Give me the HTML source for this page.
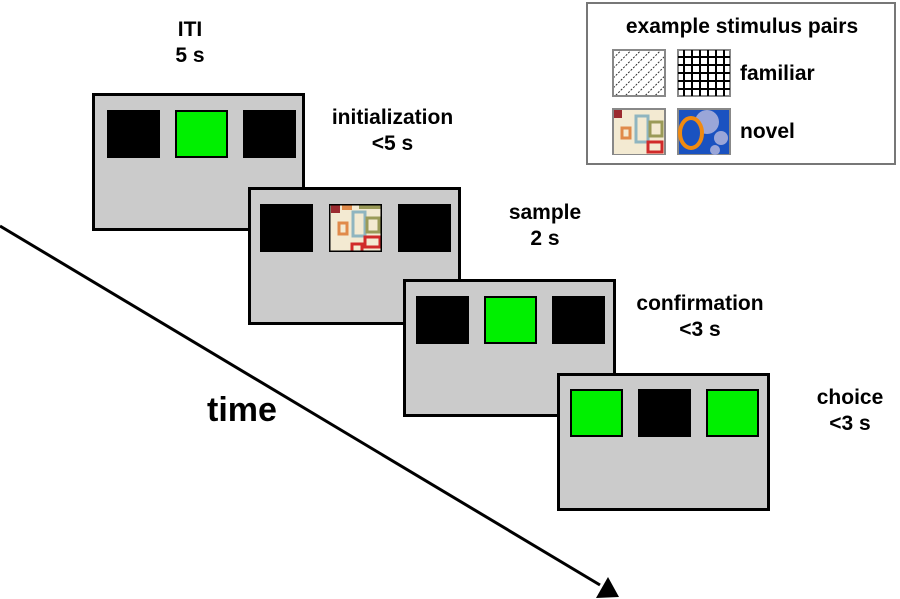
<!DOCTYPE html>
<html><head><style>
body{margin:0;width:900px;height:599px;background:#fff;position:relative;overflow:hidden;font-family:"Liberation Sans",sans-serif;font-weight:bold;}
.p{position:absolute;background:#cbcbcb;border:3px solid #000;box-sizing:border-box;width:213px;height:138px;}
.s{position:absolute;width:53px;height:48px;border:2px solid #000;box-sizing:border-box;background:#000;}
.g{background:#00f000;}
.t{position:absolute;font-size:21px;text-align:center;line-height:26px;color:#000;}
</style></head><body>
<svg style="position:absolute;left:0;top:0" width="900" height="599">
<line x1="0" y1="226" x2="600" y2="585" stroke="#000" stroke-width="3"/>
<polygon points="619,597 596,598 608,577" fill="#000"/>
</svg>
<div class="p" style="left:92px;top:93px"></div>
<div class="s" style="left:107px;top:110px"></div>
<div class="s g" style="left:175px;top:110px"></div>
<div class="s" style="left:243px;top:110px"></div>
<div class="p" style="left:248px;top:187px"></div>
<div class="s" style="left:260px;top:204px"></div>
<svg style="position:absolute;left:329px;top:204px" width="53" height="48">
<rect width="53" height="48" fill="#f3ead2"/>
<rect x="2" y="0" width="9" height="9" fill="#9b2b30"/><rect x="13" y="0" width="10" height="6" fill="#e08a4a"/>
<rect x="24" y="8" width="12" height="24" fill="none" stroke="#8fb5c0" stroke-width="3"/>
<rect x="10" y="19" width="8" height="11" fill="none" stroke="#e08a4a" stroke-width="3"/>
<rect x="38" y="14" width="12" height="14" fill="none" stroke="#9a9a58" stroke-width="3"/>
<rect x="36" y="33" width="15" height="10" fill="none" stroke="#d02a2a" stroke-width="3"/>
<rect x="23" y="40" width="10" height="8" fill="none" stroke="#d02a2a" stroke-width="3"/>
<rect x="30" y="0" width="23" height="5" fill="#9a9a58"/>
<rect width="53" height="48" fill="none" stroke="#000" stroke-width="3"/>
</svg>
<div class="s" style="left:398px;top:204px"></div>
<div class="p" style="left:403px;top:279px"></div>
<div class="s" style="left:416px;top:296px"></div>
<div class="s g" style="left:484px;top:296px"></div>
<div class="s" style="left:552px;top:296px"></div>
<div class="p" style="left:557px;top:373px"></div>
<div class="s g" style="left:570px;top:389px"></div>
<div class="s" style="left:638px;top:389px"></div>
<div class="s g" style="left:706px;top:389px"></div>

<div class="t" style="left:160px;top:17px;width:60px">ITI<br>5 s</div>
<div class="t" style="left:310px;top:105px;width:165px">initialization<br>&lt;5 s</div>
<div class="t" style="left:490px;top:200px;width:110px">sample<br>2 s</div>
<div class="t" style="left:615px;top:291px;width:170px">confirmation<br>&lt;3 s</div>
<div class="t" style="left:800px;top:385px;width:100px">choice<br>&lt;3 s</div>
<div class="t" style="left:207px;top:397px;font-size:34px">time</div>

<div style="position:absolute;left:586px;top:2px;width:310px;height:163px;border:2px solid #777;box-sizing:border-box;background:#fff"></div>
<div class="t" style="left:592px;top:14px;width:300px;font-size:21px">example stimulus pairs</div>
<svg style="position:absolute;left:612px;top:49px" width="120" height="106">
<defs><pattern id="d" width="7" height="7" patternUnits="userSpaceOnUse" patternTransform="rotate(45)"><line x1="0" y1="0" x2="0" y2="7" stroke="#000" stroke-width="1.6" stroke-dasharray="2 1.5"/></pattern></defs>
<rect x="1" y="1" width="52" height="46" fill="url(#d)" stroke="#888" stroke-width="2"/>
<g stroke="#000" stroke-width="2"><rect x="66" y="1" width="52" height="46" fill="#fff" stroke="#888"/>
<line x1="72" y1="1" x2="72" y2="47"/><line x1="80" y1="1" x2="80" y2="47"/><line x1="88" y1="1" x2="88" y2="47"/><line x1="96" y1="1" x2="96" y2="47"/><line x1="104" y1="1" x2="104" y2="47"/><line x1="112" y1="1" x2="112" y2="47"/>
<line x1="66" y1="8" x2="118" y2="8"/><line x1="66" y1="16" x2="118" y2="16"/><line x1="66" y1="24" x2="118" y2="24"/><line x1="66" y1="32" x2="118" y2="32"/><line x1="66" y1="40" x2="118" y2="40"/></g>
<g transform="translate(0,59)"><rect x="1" y="1" width="52" height="46" fill="#f3ead2" stroke="#888" stroke-width="2"/>
<rect x="2" y="2" width="8" height="8" fill="#9b2b30"/><rect x="24" y="8" width="12" height="26" fill="none" stroke="#8fb5c0" stroke-width="3"/>
<rect x="10" y="20" width="8" height="10" fill="none" stroke="#e08a4a" stroke-width="3"/><rect x="38" y="14" width="12" height="14" fill="none" stroke="#9a9a58" stroke-width="3"/>
<rect x="36" y="34" width="14" height="10" fill="none" stroke="#d02a2a" stroke-width="3"/></g>
<g transform="translate(65,59)"><rect x="1" y="1" width="52" height="46" fill="#1a52c0" stroke="#888" stroke-width="2"/>
<circle cx="30" cy="14" r="12" fill="#9aa6d8"/><circle cx="44" cy="30" r="7" fill="#9aa6d8"/><circle cx="38" cy="42" r="5" fill="#9aa6d8"/>
<ellipse cx="14" cy="25" rx="11" ry="15" fill="#1a52c0" stroke="#f08a10" stroke-width="4"/></g>
</svg>
<div class="t" style="left:740px;top:61px;font-size:21px">familiar</div>
<div class="t" style="left:740px;top:119px;font-size:21px">novel</div>
</body></html>
